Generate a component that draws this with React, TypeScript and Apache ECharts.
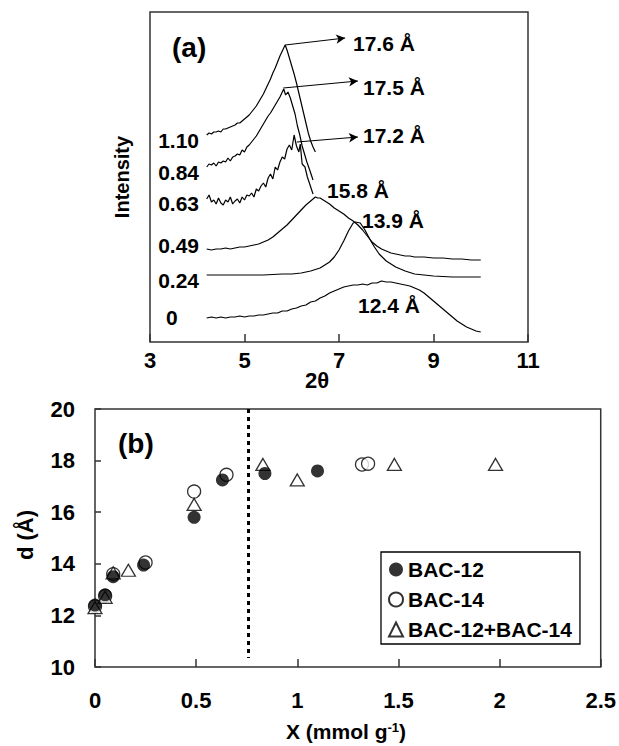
import React, { useEffect, useRef } from 'react';
import * as echarts from 'echarts';

// ---------- Panel (a): XRD patterns (2θ, offset intensity) ----------
const twoThetaRange = [3, 11];
const curveLabels = ['0', '0.24', '0.49', '0.63', '0.84', '1.10'];
const peakLabels = ['12.4 Å', '13.9 Å', '15.8 Å', '17.2 Å', '17.5 Å', '17.6 Å'];

const xrd000 = [
  [4.2, 24], [4.3, 25], [4.4, 24], [4.5, 25], [4.6, 24], [4.7, 25], [4.8, 25], [4.9, 26], [5.0, 25],
  [5.1, 26], [5.2, 26], [5.3, 27], [5.4, 27], [5.5, 28], [5.6, 29], [5.7, 29], [5.8, 31], [5.9, 31],
  [6.0, 33], [6.1, 34], [6.2, 36], [6.3, 37], [6.4, 40], [6.5, 41], [6.6, 44], [6.7, 46], [6.8, 49],
  [6.9, 51], [7.0, 53], [7.1, 55], [7.2, 56], [7.3, 57], [7.4, 57], [7.5, 58], [7.6, 57], [7.7, 59],
  [7.8, 59], [7.9, 61], [8.0, 60], [8.1, 60], [8.2, 59], [8.3, 58], [8.4, 57], [8.5, 56], [8.6, 54],
  [8.7, 52], [8.8, 49], [8.9, 45], [9.0, 41], [9.1, 37], [9.2, 33], [9.3, 29], [9.4, 25], [9.5, 21],
  [9.6, 18], [9.7, 15], [9.8, 13], [9.9, 11], [10.0, 10],
];
const xrd024 = [
  [4.2, 67], [4.6, 67], [5.0, 67], [5.4, 67], [5.8, 68], [6.0, 68], [6.2, 69], [6.4, 71], [6.6, 74],
  [6.7, 77], [6.8, 80], [6.9, 85], [7.0, 92], [7.1, 101], [7.2, 111], [7.3, 119], [7.35, 120],
  [7.45, 119], [7.55, 112], [7.65, 103], [7.75, 95], [7.85, 88], [8.0, 81], [8.1, 78], [8.2, 75],
  [8.4, 71], [8.6, 68], [8.8, 67], [9.0, 66], [9.4, 65], [10.0, 65],
];
const xrd049 = [
  [4.2, 93], [4.3, 92], [4.4, 93], [4.5, 93], [4.6, 94], [4.7, 93], [4.8, 94], [4.9, 95], [5.0, 95],
  [5.1, 96], [5.2, 97], [5.3, 98], [5.4, 100], [5.5, 102], [5.6, 105], [5.7, 109], [5.8, 113],
  [5.9, 117], [6.0, 122], [6.1, 127], [6.2, 132], [6.3, 137], [6.4, 141], [6.5, 145], [6.55, 144],
  [6.6, 144], [6.7, 141], [6.8, 138], [6.9, 134], [7.0, 131], [7.1, 128], [7.2, 124], [7.3, 121],
  [7.4, 117], [7.5, 112], [7.6, 106], [7.7, 100], [7.8, 96], [7.9, 93], [8.0, 91], [8.1, 89],
  [8.2, 88], [8.3, 87], [8.4, 86], [8.5, 86], [8.6, 85], [8.8, 85], [9.0, 84], [9.2, 84], [9.4, 83],
  [9.6, 83], [9.8, 82], [10.0, 82],
];
const xrd063 = [
  [4.2, 143], [4.25, 147], [4.3, 140], [4.35, 142], [4.4, 138], [4.45, 144], [4.5, 139], [4.55, 137],
  [4.6, 142], [4.65, 140], [4.7, 145], [4.75, 138], [4.8, 141], [4.85, 143], [4.9, 139], [4.95, 145],
  [5.0, 142], [5.05, 147], [5.1, 146], [5.15, 149], [5.2, 145], [5.25, 153], [5.3, 151], [5.35, 156],
  [5.4, 159], [5.45, 155], [5.5, 164], [5.55, 168], [5.6, 163], [5.65, 175], [5.7, 172], [5.75, 180],
  [5.8, 185], [5.85, 183], [5.9, 193], [5.95, 197], [6.0, 192], [6.05, 207], [6.1, 196], [6.15, 190],
  [6.18, 198], [6.22, 178], [6.28, 175], [6.33, 165], [6.38, 158], [6.45, 148],
];
const xrd084 = [
  [4.2, 175], [4.25, 178], [4.3, 177], [4.35, 179], [4.4, 176], [4.45, 180], [4.5, 179], [4.55, 181],
  [4.6, 180], [4.65, 184], [4.7, 181], [4.75, 185], [4.8, 186], [4.85, 188], [4.9, 187], [4.95, 192],
  [5.0, 190], [5.05, 195], [5.1, 197], [5.15, 200], [5.2, 203], [5.25, 206], [5.3, 210], [5.35, 214],
  [5.4, 218], [5.45, 222], [5.5, 226], [5.55, 229], [5.6, 233], [5.65, 237], [5.7, 241], [5.75, 245],
  [5.8, 250], [5.83, 253], [5.87, 247], [5.92, 250], [5.97, 244], [6.02, 236], [6.07, 228],
  [6.12, 216], [6.17, 207], [6.22, 196], [6.27, 188], [6.32, 180], [6.38, 172], [6.45, 162],
];
const xrd110 = [
  [4.2, 207], [4.25, 209], [4.3, 208], [4.35, 210], [4.4, 210], [4.45, 211], [4.5, 210], [4.55, 213],
  [4.6, 213], [4.65, 214], [4.7, 215], [4.75, 216], [4.8, 217], [4.85, 219], [4.9, 219], [4.95, 221],
  [5.0, 223], [5.05, 225], [5.1, 227], [5.15, 230], [5.2, 233], [5.25, 236], [5.3, 240], [5.35, 244],
  [5.4, 248], [5.45, 253], [5.5, 258], [5.55, 263], [5.6, 269], [5.65, 274], [5.7, 280], [5.75, 286],
  [5.8, 291], [5.86, 297], [5.9, 292], [5.95, 284], [6.0, 276], [6.05, 268], [6.1, 259], [6.15, 249],
  [6.2, 239], [6.25, 229], [6.3, 219], [6.35, 209], [6.4, 201], [6.45, 195], [6.5, 190],
];
const arrowFrom = [[5.86, 297], [5.82, 254], [6.11, 200]];
const arrowTo = [[7.13, 304], [7.4, 261], [7.4, 205]];

// ---------- Panel (b): d-spacing vs loading ----------
const seriesNames = ['BAC-12', 'BAC-14', 'BAC-12+BAC-14'];
const xBAC12 = [0, 0.05, 0.09, 0.24, 0.49, 0.63, 0.84, 1.1];
const dBAC12 = [12.4, 12.8, 13.5, 13.95, 15.8, 17.25, 17.5, 17.6];
const xBAC14 = [0, 0.05, 0.09, 0.25, 0.49, 0.65, 1.32, 1.35];
const dBAC14 = [12.35, 12.75, 13.6, 14.05, 16.8, 17.45, 17.85, 17.88];
const xMix = [0, 0.05, 0.09, 0.165, 0.49, 0.83, 1.0, 1.48, 1.98];
const dMix = [12.3, 12.7, 13.65, 13.75, 16.3, 17.85, 17.25, 17.85, 17.85];
const dividerX = 0.76;
const dividerY = [20, 10.35];

const zip = (xs: number[], ys: number[]) => xs.map((x, i) => [x, ys[i]]);

export default function App() {
  const ref = useRef<HTMLDivElement>(null);
  useEffect(() => {
    const chart = echarts.init(ref.current!, null, { renderer: 'svg' });
    const F = '"Liberation Sans", Arial, Helvetica, sans-serif';
    const T = (text: string, x: number, y: number, extra: any = {}, rot = 0) => ({
      type: 'text',
      x,
      y,
      rotation: rot,
      silent: true,
      style: {
        text,
        fontFamily: F,
        fontWeight: 'bold',
        fontSize: 21,
        fill: '#000',
        align: 'left',
        verticalAlign: 'middle',
        ...extra,
      },
    });

    const curves = [xrd000, xrd024, xrd049, xrd063, xrd084, xrd110];
    const lineSeries: any[] = curves.map((d, i) => ({
      type: 'line',
      name: 'xrd-' + curveLabels[i],
      xAxisIndex: 0,
      yAxisIndex: 0,
      data: d,
      symbol: 'none',
      showSymbol: false,
      silent: true,
      lineStyle: { color: '#000', width: 1.2 },
      z: 3,
    }));
    lineSeries[5].markLine = {
      silent: true,
      symbol: ['none', 'arrow'],
      symbolSize: [7, 9],
      lineStyle: { color: '#000', width: 1, type: 'solid' },
      label: { show: false },
      emphasis: { disabled: true },
      data: arrowFrom.map((f, i) => [{ coord: f }, { coord: arrowTo[i] }]),
    };

    const openStyle = { color: '#fff', borderColor: '#000', borderWidth: 1.3 };
    const scatterSeries: any[] = [
      {
        type: 'scatter',
        name: seriesNames[1],
        xAxisIndex: 1,
        yAxisIndex: 1,
        data: zip(xBAC14, dBAC14),
        symbol: 'circle',
        symbolSize: 13,
        itemStyle: openStyle,
        z: 3,
      },
      {
        type: 'scatter',
        name: seriesNames[2],
        xAxisIndex: 1,
        yAxisIndex: 1,
        data: zip(xMix, dMix),
        symbol: 'triangle',
        symbolSize: [14, 12],
        itemStyle: openStyle,
        z: 4,
      },
      {
        type: 'scatter',
        name: seriesNames[0],
        xAxisIndex: 1,
        yAxisIndex: 1,
        data: zip(xBAC12, dBAC12),
        symbol: 'circle',
        symbolSize: 13,
        itemStyle: { color: '#000' },
        z: 5,
        markLine: {
          silent: true,
          symbol: ['none', 'none'],
          label: { show: false },
          lineStyle: { color: '#000', width: 3, type: [4, 4] },
          data: [[{ coord: [dividerX, dividerY[0]] }, { coord: [dividerX, dividerY[1]] }]],
        },
      },
    ];

    const axisLabel = { fontSize: 22, fontWeight: 'bold', fontFamily: F, color: '#000' };
    const frame = '#333';

    chart.setOption({
      animation: false,
      backgroundColor: '#fff',
      grid: [
        { left: 150, top: 12, width: 378, height: 330, show: true, borderColor: frame, borderWidth: 1.5, backgroundColor: 'transparent' },
        { left: 95, top: 409, width: 507, height: 258, show: true, borderColor: frame, borderWidth: 1.5, backgroundColor: 'transparent' },
      ],
      xAxis: [
        {
          gridIndex: 0,
          type: 'value',
          min: twoThetaRange[0],
          max: twoThetaRange[1],
          interval: 2,
          axisLine: { show: false },
          axisTick: { show: true, inside: true, length: 8, lineStyle: { color: frame, width: 1.5 } },
          axisLabel: { ...axisLabel, margin: 7 },
          splitLine: { show: false },
        },
        {
          gridIndex: 1,
          type: 'value',
          min: 0,
          max: 2.5,
          interval: 0.5,
          axisLine: { show: false },
          axisTick: { show: true, inside: true, length: 8, lineStyle: { color: frame, width: 1.5 } },
          axisLabel: { ...axisLabel, margin: 22 },
          splitLine: { show: false },
        },
      ],
      yAxis: [
        { gridIndex: 0, type: 'value', min: 0, max: 330, show: false },
        {
          gridIndex: 1,
          type: 'value',
          min: 10,
          max: 20,
          interval: 2,
          axisLine: { show: false },
          axisTick: { show: true, inside: true, length: 6, lineStyle: { color: frame, width: 1.5 } },
          axisLabel: { ...axisLabel, margin: 20 },
          splitLine: { show: false },
        },
      ],
      legend: {
        data: seriesNames,
        orient: 'vertical',
        left: 381,
        top: 552,
        padding: [7, 8, 4, 7],
        itemGap: 9,
        itemWidth: 14,
        itemHeight: 14,
        borderColor: '#000',
        borderWidth: 1.3,
        selectedMode: false,
        textStyle: { fontSize: 21, fontWeight: 'bold', fontFamily: F, color: '#000' },
      },
      series: [...lineSeries, ...scatterSeries],
      graphic: [
        T('(a)', 172, 47, { fontSize: 28 }),
        T('Intensity', 122, 177, { fontSize: 20, align: 'center' }, Math.PI / 2),
        T('2θ', 317, 380, { fontSize: 22, align: 'center' }),
        T(curveLabels[5], 199, 140, { align: 'right' }),
        T(curveLabels[4], 199, 172, { align: 'right' }),
        T(curveLabels[3], 199, 203, { align: 'right' }),
        T(curveLabels[2], 199, 245, { align: 'right' }),
        T(curveLabels[1], 199, 280, { align: 'right' }),
        T(curveLabels[0], 166, 317),
        T(peakLabels[5], 353, 43),
        T(peakLabels[4], 363, 87),
        T(peakLabels[3], 363, 135),
        T(peakLabels[2], 327, 190),
        T(peakLabels[1], 362, 220),
        T(peakLabels[0], 358, 305),
        T('(b)', 118, 443, { fontSize: 28 }),
        T('d (Å)', 25, 535, { fontSize: 22, align: 'center' }, Math.PI / 2),
        {
          type: 'text',
          x: 346,
          y: 731,
          silent: true,
          style: {
            text: '{a|X (mmol g}{s|-1}{a|)}',
            align: 'center',
            verticalAlign: 'middle',
            fill: '#000',
            rich: {
              a: { fontSize: 21, fontWeight: 'bold', fontFamily: F, fill: '#000' },
              s: { fontSize: 13, fontWeight: 'bold', fontFamily: F, fill: '#000', verticalAlign: 'top', padding: [0, 0, 8, 0] },
            },
          },
        },
      ],
    });
    return () => chart.dispose();
  }, []);
  return <div ref={ref} style={{ position: 'fixed', left: 0, top: 0, width: 619, height: 746 }} />;
}
